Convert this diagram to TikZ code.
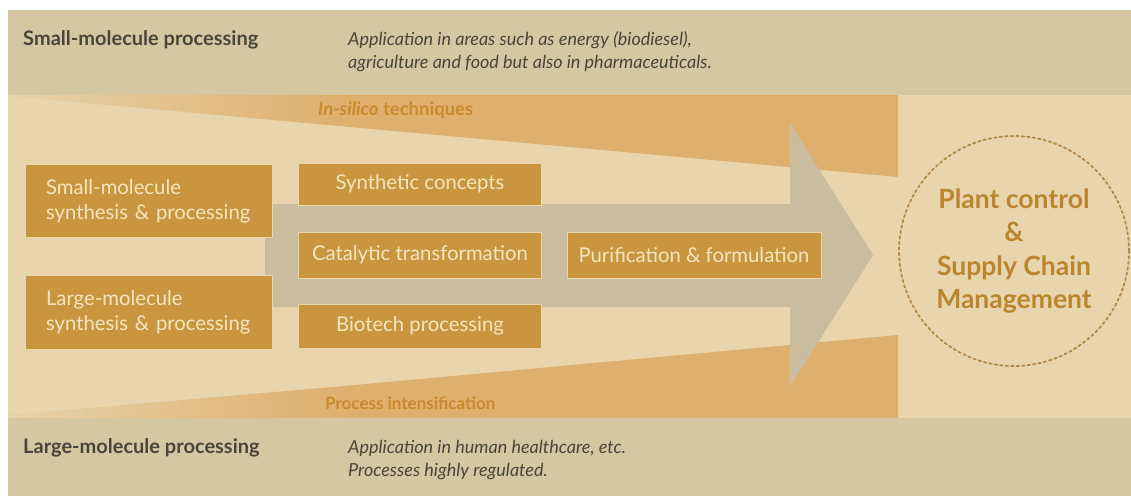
\documentclass[tikz,border=0pt]{standalone}
\usepackage{fontspec}
\setmainfont{Lato}
\definecolor{bandc}{HTML}{D5C7A1}
\definecolor{midc}{HTML}{E8D5AD}
\definecolor{wedgeL}{HTML}{E6D2A9}
\definecolor{wedgeR}{HTML}{DFAF6D}
\definecolor{arrowc}{HTML}{C9BC9F}
\definecolor{boxc}{HTML}{C9963F}
\definecolor{boxtext}{HTML}{F5E5BF}
\definecolor{boxedge}{HTML}{EAD6A8}
\definecolor{darktext}{HTML}{4B4539}
\definecolor{goldtext}{HTML}{C98B2D}
\definecolor{circc}{HTML}{B08A48}
\definecolor{circtext}{HTML}{B9862D}
\begin{document}
\begin{tikzpicture}[x=1pt,y=-1pt,
  pbox/.style={draw=boxedge, line width=0.8pt, fill=boxc, text=boxtext,
    inner sep=0pt, font=\fontsize{20.3}{25}\selectfont},
  sidebox/.style={pbox, minimum width=247pt, minimum height=73pt,
    text width=205pt, align=left},
  midbox/.style={pbox, minimum width=243pt, align=center},
  headtxt/.style={anchor=base west, inner sep=0pt, text=darktext,
    font=\fontsize{20}{24}\selectfont\bfseries},
  ittxt/.style={anchor=base west, inner sep=0pt, text=darktext,
    font=\fontsize{18}{23}\selectfont\itshape},
  goldlbl/.style={anchor=base west, inner sep=0pt, text=goldtext,
    font=\fontsize{17}{22}\selectfont\bfseries},
  hub/.style={circle, draw=circc, line width=1.8pt, dash pattern=on 2.5pt off 3pt,
    line cap=round, minimum size=230pt, inner sep=0pt, align=center,
    text=circtext, font=\fontsize{26.5}{33.5}\selectfont\bfseries}
]
\useasboundingbox (0,0) rectangle (1131,496);
\fill[white] (0,0) rectangle (1131,496);
% background bands
\fill[midc] (8,10) rectangle (1131,496);
\fill[bandc] (8,10) rectangle (1131,95);
\fill[bandc] (8,418) rectangle (1131,496);
% upper wedge
\shade[left color=wedgeL, right color=wedgeR] (8,95) -- (350,95) -- (350,127) -- (8,96) -- cycle;
\fill[wedgeR] (349.5,95) -- (898,95) -- (898,177) -- (349.5,127) -- cycle;
% lower wedge
\shade[left color=wedgeL, right color=wedgeR] (8,418) -- (350,418) -- (350,385.5) -- (8,415) -- cycle;
\fill[wedgeR] (349.5,418) -- (898,418) -- (898,335) -- (349.5,385.5) -- cycle;
% big arrow
\fill[arrowc] (265,204) -- (790,204) -- (790,123) -- (873,255) -- (790,387)
  -- (790,307) -- (265,307) -- cycle;
% boxes
\node[sidebox] (sms) at (148.5,201) {Small-molecule\\synthesis \& processing};
\node[sidebox, minimum height=74pt] (lms) at (148.5,312) {Large-molecule\\synthesis \& processing};
\node[midbox, minimum height=42pt] (syn) at (420,184) {Synthetic concepts};
\node[midbox, minimum height=46pt] (cat) at (420,255) {Catalytic transformation};
\node[midbox, minimum height=44pt] (bio) at (420,326) {Biotech processing};
\node[pbox, minimum width=254pt, minimum height=46pt] (pur) at (694,255) {Purification \& formulation};
% hub
\node[hub] (hubn) at (1014,251) {Plant control\\\&\\Supply Chain\\Management};
% texts
\node[headtxt] (smp) at (23,45) {Small-molecule processing};
\node[ittxt, align=left] (smapp) at (348,68) {Application in areas such as energy (biodiesel),\\agriculture and food but also in pharmaceuticals.};
\node[goldlbl, font=\fontsize{18.5}{22}\selectfont\bfseries] (insil) at (318,115) {\textit{In-silico} techniques};
\node[goldlbl] (pint) at (325,409) {Process intensification};
\node[headtxt] (lmp) at (23,453) {Large-molecule processing};
\node[ittxt, align=left] (lmapp) at (348,476) {Application in human healthcare, etc.\\Processes highly regulated.};
\end{tikzpicture}
\end{document}
